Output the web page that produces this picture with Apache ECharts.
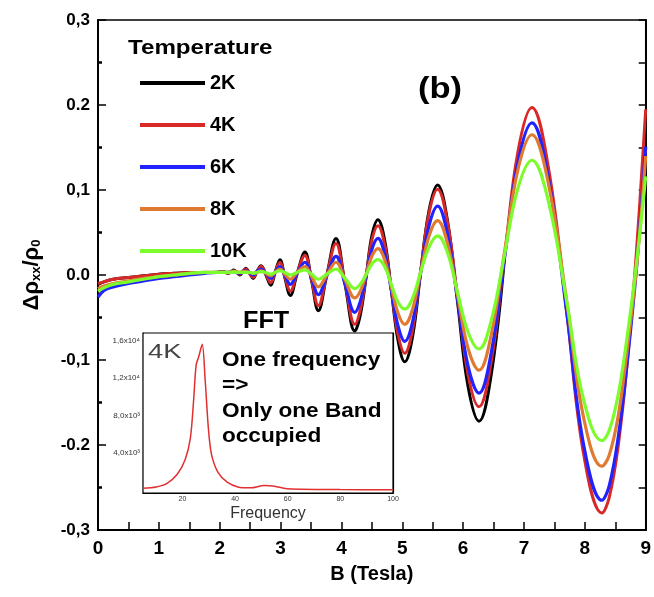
<!DOCTYPE html>
<html>
<head>
<meta charset="utf-8">
<script src="https://cdn.jsdelivr.net/npm/echarts@6/dist/echarts.min.js"></script>
<style>
html,body{margin:0;padding:0;background:#fff;}
#c{width:654px;height:597px;}
</style>
</head>
<body>
<div id="c"></div>
<script>
// ---- Data ----
const fieldB = [0, 0.1, 0.25, 0.5, 0.75, 1.0, 1.25, 1.5, 1.75, 1.95,
  2.05, 2.10, 2.14, 2.19, 2.23, 2.28, 2.33, 2.38, 2.43, 2.49, 2.55, 2.61, 2.68, 2.76, 2.84, 2.91, 2.99, 3.07, 3.16, 3.27, 3.40, 3.51, 3.62, 3.76, 3.91, 4.06,
  4.22, 4.31, 4.41, 4.50, 4.60, 4.71, 4.82, 4.93, 5.04, 5.17, 5.30, 5.44, 5.58, 5.74, 5.91, 6.08, 6.26, 6.46, 6.68, 6.90, 7.13, 7.40, 7.70, 7.98, 8.28, 8.40, 8.55, 8.70, 8.85, 9.00];

const rho2K = [-0.011, -0.008, -0.005, -0.003, -0.001, 0.001, 0.002, 0.003, 0.003, 0.003,
  0.004, 0.003, 0.002, 0.004, 0.006, 0.003, 0.000, 0.004, 0.008, 0.002, -0.004, 0.004, 0.011, 0.000, -0.012, 0.003, 0.018, -0.003, -0.024, 0.001, 0.027, -0.007, -0.042, 0.000, 0.043, -0.011,
  -0.066, -0.047, 0.000, 0.046, 0.065, 0.041, -0.018, -0.077, -0.102, -0.072, 0.002, 0.076, 0.106, 0.065, -0.033, -0.131, -0.172, -0.118, 0.021,
  null, null, null, null, null, null, null, null, null, null, null];

const rho4K = [-0.010, -0.008, -0.005, -0.003, -0.001, 0.001, 0.002, 0.003, 0.003, 0.003,
  0.004, 0.003, 0.002, 0.004, 0.005, 0.003, 0.001, 0.004, 0.007, 0.002, -0.003, 0.004, 0.010, 0.001, -0.009, 0.003, 0.015, -0.002, -0.019, 0.002, 0.023, -0.006, -0.036, 0.000, 0.037, -0.010,
  -0.058, -0.041, 0.000, 0.041, 0.058, 0.036, -0.017, -0.070, -0.092, -0.064, 0.004, 0.073, 0.101, 0.063, -0.027, -0.117, -0.155, -0.103, 0.021, 0.145, 0.197, 0.127, -0.042, -0.211, -0.280, -0.262, -0.200, -0.100, 0.030, 0.195];

const rho6K = [-0.026, -0.018, -0.014, -0.010, -0.007, -0.004, -0.002, 0.000, 0.002, 0.003,
  0.003, 0.003, 0.003, 0.004, 0.004, 0.003, 0.002, 0.004, 0.005, 0.003, 0.000, 0.004, 0.007, 0.002, -0.004, 0.003, 0.010, 0.000, -0.011, 0.002, 0.015, -0.004, -0.023, -0.001, 0.022, -0.011,
  -0.044, -0.031, 0.000, 0.030, 0.043, 0.025, -0.018, -0.060, -0.078, -0.055, 0.002, 0.058, 0.081, 0.049, -0.029, -0.107, -0.139, -0.092, 0.020, 0.132, 0.179, 0.114, -0.043, -0.200, -0.265, -0.248, -0.190, -0.100, 0.010, 0.151];

const rho8K = [-0.016, -0.013, -0.010, -0.007, -0.004, -0.002, 0.000, 0.002, 0.003, 0.003,
  0.003, 0.003, 0.003, 0.004, 0.004, 0.004, 0.003, 0.004, 0.004, 0.003, 0.002, 0.003, 0.005, 0.002, -0.001, 0.003, 0.007, 0.001, -0.005, 0.003, 0.010, -0.002, -0.014, 0.000, 0.015, -0.006,
  -0.027, -0.019, 0.002, 0.022, 0.031, 0.018, -0.014, -0.045, -0.058, -0.040, 0.003, 0.046, 0.064, 0.038, -0.024, -0.086, -0.112, -0.071, 0.027, 0.124, 0.165, 0.108, -0.030, -0.168, -0.225, -0.212, -0.165, -0.085, 0.010, 0.140];

const rho10K = [-0.019, -0.015, -0.011, -0.008, -0.005, -0.002, 0.000, 0.002, 0.003, 0.003,
  0.003, 0.003, 0.003, 0.003, 0.004, 0.003, 0.003, 0.003, 0.003, 0.003, 0.002, 0.003, 0.004, 0.003, 0.001, 0.003, 0.005, 0.003, 0.000, 0.003, 0.006, 0.001, -0.005, 0.001, 0.007, -0.004,
  -0.016, -0.011, 0.001, 0.013, 0.018, 0.010, -0.011, -0.032, -0.040, -0.027, 0.003, 0.033, 0.046, 0.027, -0.021, -0.067, -0.087, -0.054, 0.024, 0.102, 0.135, 0.087, -0.030, -0.147, -0.195, -0.183, -0.140, -0.070, 0.015, 0.116];

const seriesNames = ['2K', '4K', '6K', '8K', '10K'];
const seriesColors = ['#000000', '#d82828', '#2222ff', '#e07a30', '#7cfc2c'];

const yTickLabels = ['-0,3', '-0.2', '-0,1', '0.0', '0,1', '0.2', '0,3'];

// inset FFT (4K)
const fftFreq = [5, 10, 14, 18, 21, 23, 24.2, 25.2, 26.2, 27.5, 28.6, 29.8, 31, 33.5, 37, 41, 46, 51, 55, 59, 65, 80, 100];
const fftAmp = [250, 400, 750, 1750, 3300, 5600, 9500, 13400, 14300, 15600, 11900, 6800, 3900, 1950, 900, 400, 300, 550, 480, 230, 150, 110, 100];
const insetXTicks = [10, 20, 30, 40, 50, 60, 70, 80, 90, 100];
const insetXLabels = [20, 40, 60, 80, 100];
const insetYTicks = [4000, 8000, 12000, 16000];
const insetYLabels = ['4,0x10³', '8,0x10³', '1,2x10⁴', '1,6x10⁴'];

// ---- Chart ----
const FONT = '"Liberation Sans", Arial, sans-serif';
const allRho = [rho2K, rho4K, rho6K, rho8K, rho10K];

const chart = echarts.init(document.getElementById('c'), null, {renderer: 'canvas'});

const mainSeries = seriesNames.map((n, k) => ({
  name: n,
  type: 'line',
  xAxisIndex: 0,
  yAxisIndex: 0,
  showSymbol: false,
  symbol: 'none',
  smooth: 0.4,
  color: seriesColors[k],
  lineStyle: {width: k >= 2 ? 3.2 : 3, color: seriesColors[k]},
  data: fieldB.map((b, i) => [b, allRho[k][i]]).filter(p => p[1] !== null),
  z: 2 + k
}));

function txt(x, y, s, size, opts) {
  opts = opts || {};
  return {
    type: 'text', x: x, y: y, scaleX: opts.sx || 1, z: 20,
    style: {
      text: s, fontFamily: FONT, fontSize: size, fontWeight: opts.normal ? 'normal' : 'bold',
      fill: opts.fill || '#000', align: 'left', verticalAlign: 'middle'
    }
  };
}

const option = {
  animation: false,
  backgroundColor: '#fff',
  textStyle: {fontFamily: FONT},
  grid: [
    {left: 98, right: 8, top: 20, bottom: 67, show: true, borderColor: '#000', borderWidth: 1.5, backgroundColor: 'transparent'},
    {left: 143, top: 333, width: 250, height: 160, show: true, borderColor: '#000', borderWidth: 1.2, backgroundColor: '#fff', z: 1}
  ],
  legend: {
    data: seriesNames,
    orient: 'vertical',
    left: 135,
    top: 68,
    itemWidth: 65,
    itemHeight: 4,
    itemGap: 22,
    icon: 'rect',
    selectedMode: false,
    textStyle: {fontFamily: FONT, fontSize: 20, fontWeight: 'bold', color: '#000', lineHeight: 20}
  },
  xAxis: [
    {
      gridIndex: 0, type: 'value', min: 0, max: 9, interval: 1,
      axisLine: {show: true, onZero: false, lineStyle: {color: '#000', width: 2}},
      axisTick: {show: true, inside: true, length: 8, lineStyle: {color: '#000', width: 1.5}},
      minorTick: {show: true, splitNumber: 2, length: 8, lineStyle: {color: '#000', width: 1.5}},
      splitLine: {show: false},
      axisLabel: {fontFamily: FONT, fontSize: 19, fontWeight: 'bold', color: '#000', margin: 9},
      name: 'B (Tesla)', nameLocation: 'middle', nameGap: 34,
      nameTextStyle: {fontFamily: FONT, fontSize: 20, fontWeight: 'bold', color: '#000'}
    },
    {
      gridIndex: 1, type: 'value', min: 5, max: 100,
      axisLine: {show: true, onZero: false, lineStyle: {color: '#000', width: 1.2}},
      axisTick: {show: true, inside: true, length: 4, customValues: insetXTicks, lineStyle: {color: '#000', width: 1}},
      splitLine: {show: false},
      axisLabel: {customValues: insetXLabels, fontFamily: FONT, fontSize: 7, color: '#333', margin: 3},
      name: 'Frequency', nameLocation: 'middle', nameGap: 13,
      nameTextStyle: {fontFamily: FONT, fontSize: 16, color: '#333'}
    }
  ],
  yAxis: [
    {
      gridIndex: 0, type: 'value', min: -0.3, max: 0.3, interval: 0.1,
      axisLine: {show: true, onZero: false, lineStyle: {color: '#000', width: 2}},
      axisTick: {show: true, inside: true, length: 8, lineStyle: {color: '#000', width: 1.5}},
      minorTick: {show: true, splitNumber: 2, length: 4, lineStyle: {color: '#000', width: 2.5}},
      splitLine: {show: false},
      axisLabel: {
        fontFamily: FONT, fontSize: 17, fontWeight: 'bold', color: '#000', margin: 8,
        formatter: v => yTickLabels[Math.round((v + 0.3) / 0.1)]
      },
      name: '{a|Δρ}{s|xx}{a|/ρ}{s|0}',
      nameLocation: 'middle', nameRotate: 90, nameGap: 55,
      nameTextStyle: {
        fontFamily: FONT, color: '#000',
        rich: {
          a: {fontFamily: FONT, fontSize: 22, fontWeight: 'bold', color: '#000'},
          s: {fontFamily: FONT, fontSize: 13, fontWeight: 'bold', color: '#000', padding: [9, 0, 0, 0]}
        }
      }
    },
    {
      gridIndex: 0, type: 'value', position: 'right', min: -0.3, max: 0.3, interval: 0.05,
      axisLine: {show: true, onZero: false, lineStyle: {color: '#000', width: 2}},
      axisTick: {show: true, inside: true, length: 7, lineStyle: {color: '#000', width: 1.5}},
      axisLabel: {show: false},
      splitLine: {show: false}
    },
    {
      gridIndex: 1, type: 'value', min: -250, max: 16800,
      axisLine: {show: true, onZero: false, lineStyle: {color: '#000', width: 1.2}},
      axisTick: {show: true, inside: true, length: 4, customValues: insetYTicks, lineStyle: {color: '#000', width: 1.2}},
      splitLine: {show: false},
      axisLabel: {
        customValues: insetYTicks, fontFamily: FONT, fontSize: 8, color: '#333', margin: 3,
        formatter: v => insetYLabels[insetYTicks.indexOf(v)]
      }
    },
    {
      gridIndex: 1, type: 'value', position: 'right', min: -250, max: 16800,
      axisLine: {show: true, onZero: false, lineStyle: {color: '#000', width: 1.2}},
      axisTick: {show: true, inside: true, length: 4, customValues: insetYTicks, lineStyle: {color: '#000', width: 1.2}},
      axisLabel: {show: false},
      splitLine: {show: false}
    }
  ],
  series: mainSeries.concat([{
    name: 'FFT 4K',
    type: 'line',
    xAxisIndex: 1,
    yAxisIndex: 2,
    showSymbol: false,
    symbol: 'none',
    smooth: 0.3,
    color: '#e03030',
    lineStyle: {width: 1.5, color: '#e03030'},
    data: fftFreq.map((f, i) => [f, fftAmp[i]]),
    z: 10
  }]),
  graphic: [
    txt(128, 48, 'Temperature', 21, {sx: 1.15}),
    txt(418, 90, '(b)', 30, {sx: 1.15}),
    txt(243, 321, 'FFT', 24, {sx: 1.05}),
    txt(148, 352, '4K', 21, {sx: 1.3, normal: true, fill: '#444'}),
    txt(222, 360, 'One frequency', 20, {sx: 1.13}),
    txt(222, 385, '=>', 20, {sx: 1.13}),
    txt(222, 411, 'Only one Band', 20, {sx: 1.13}),
    txt(222, 436, 'occupied', 20, {sx: 1.13})
  ]
};

chart.setOption(option);
</script>
</body>
</html>
